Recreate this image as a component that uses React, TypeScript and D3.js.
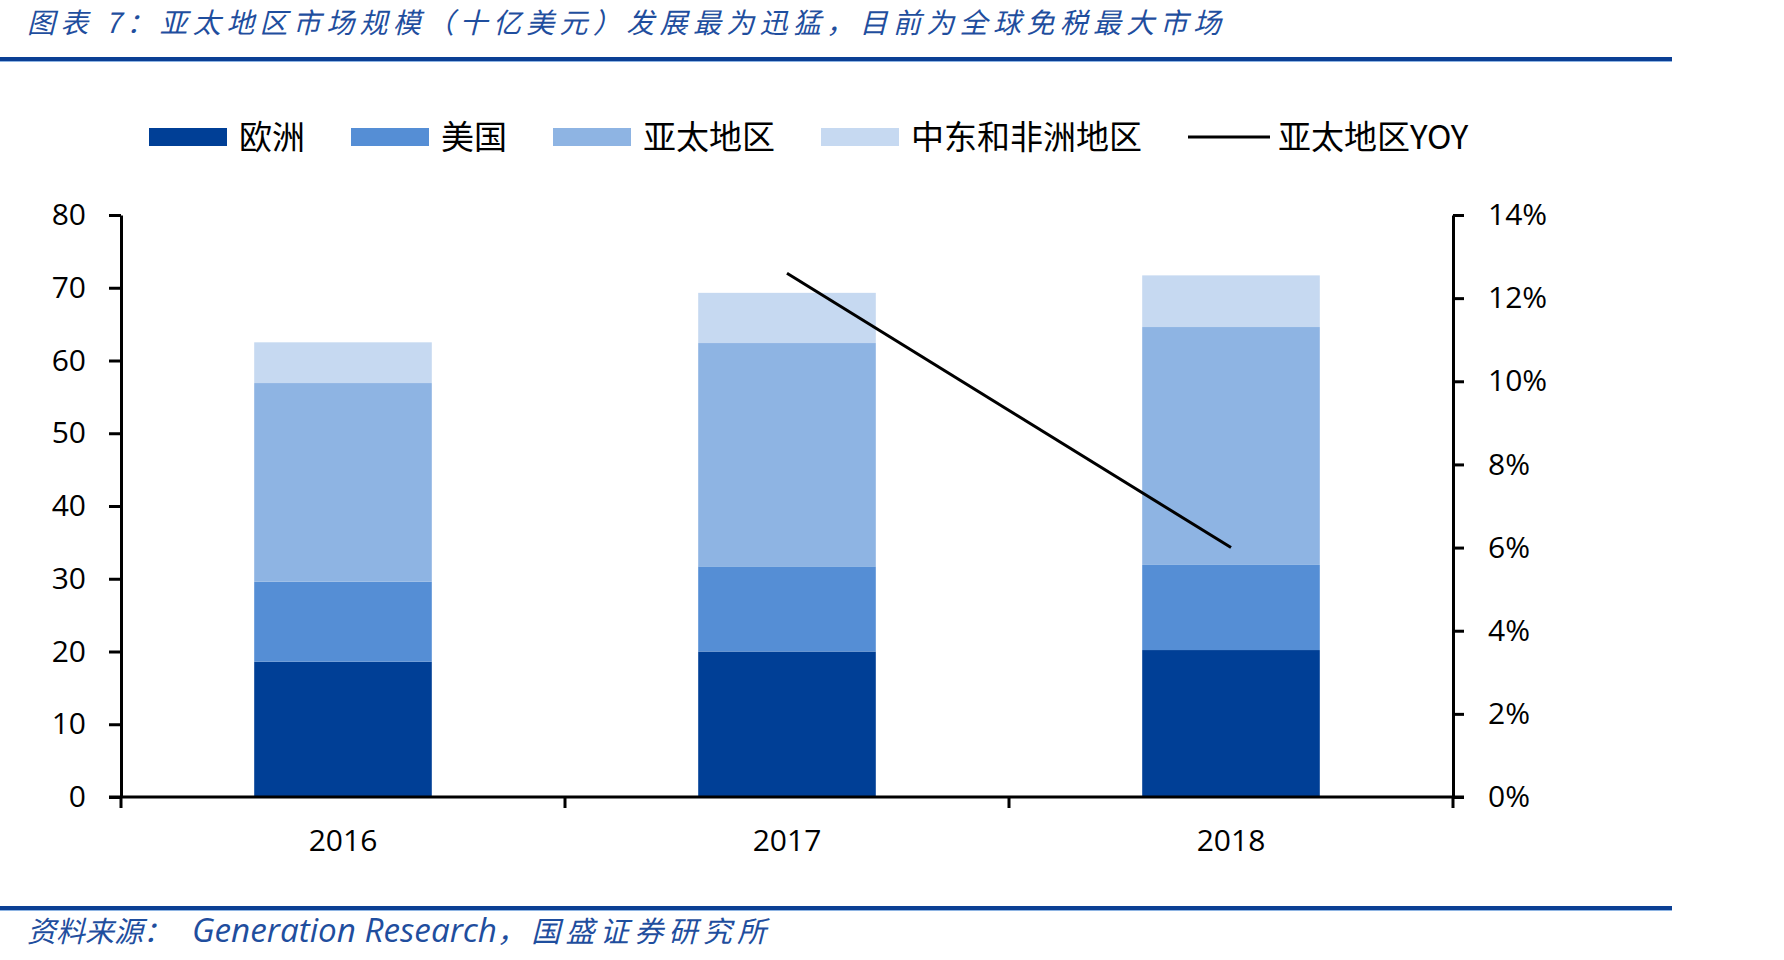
import * as d3 from 'd3'
import { useEffect, useRef } from 'react'

const years = ['2016', '2017', '2018']
const europe = [18.6, 20.0, 20.2]
const usa = [11.0, 11.7, 11.7]
const asiaPacific = [27.3, 30.7, 32.7]
const middleEastAfrica = [5.6, 6.9, 7.1]
const asiaYoy: (number | null)[] = [null, 12.6, 6.0]

const seriesNames = ['欧洲', '美国', '亚太地区', '中东和非洲地区']
const seriesColors = ['#003F96', '#558ED5', '#8EB4E3', '#C6D9F1']
const lineName = '亚太地区YOY'

const leftTicks = [0, 10, 20, 30, 40, 50, 60, 70, 80]
const rightTicks = [0, 2, 4, 6, 8, 10, 12, 14]

const title = '图表 7：亚太地区市场规模（十亿美元）发展最为迅猛，目前为全球免税最大市场'
const sourceCn = '资料来源：'
const sourceEn = 'Generation Research'
const sourceTail = '，国盛证券研究所'

const FONT = "'Open Sans', 'Noto Sans CJK SC', sans-serif"
const CJK = "'Noto Sans CJK SC', 'Open Sans', sans-serif"

export default function App() {
    const svgRef = useRef<SVGSVGElement>(null)
    const width = 1784
    const height = 960

    useEffect(() => {
        if (!svgRef.current) return
        const svg = d3.select(svgRef.current)
        svg.selectAll('*').remove()

        const plot = { left: 121, right: 1453, top: 215, bottom: 797 }

        // header and footer
        svg.append('text')
            .attr('x', 27)
            .attr('y', 33)
            .attr('fill', '#1F4E9E')
            .attr('textLength', 1194)
            .attr('lengthAdjust', 'spacing')
            .style('font-family', CJK)
            .style('font-style', 'italic')
            .style('font-size', '28px')
            .text(title)

        svg.append('rect').attr('x', 0).attr('y', 57).attr('width', 1672).attr('height', 4).attr('fill', '#0B3F94')
        svg.append('rect').attr('x', 0).attr('y', 61).attr('width', 1672).attr('height', 1).attr('fill', '#8EB4E3')
        svg.append('rect').attr('x', 0).attr('y', 906).attr('width', 1672).attr('height', 4).attr('fill', '#0B3F94')
        svg.append('rect').attr('x', 0).attr('y', 910).attr('width', 1672).attr('height', 1).attr('fill', '#8EB4E3')

        const src = svg
            .append('text')
            .attr('y', 942)
            .attr('fill', '#1F4E9E')
            .style('font-family', CJK)
            .style('font-style', 'italic')
            .style('font-size', '29px')
        src.append('tspan').attr('x', 27).text(sourceCn)
        src.append('tspan')
            .attr('x', 192)
            .attr('textLength', 305)
            .attr('lengthAdjust', 'spacingAndGlyphs')
            .style('font-family', FONT)
            .style('font-size', '32px')
            .text(sourceEn)
        src.append('tspan')
            .attr('x', 497)
            .attr('textLength', 269)
            .attr('lengthAdjust', 'spacing')
            .text(sourceTail)

        // scales
        const x = d3
            .scaleBand()
            .domain(years)
            .range([plot.left, plot.right])
            .paddingInner(0.6)
            .paddingOuter(0.3)

        const y = d3.scaleLinear().domain([0, 80]).range([plot.bottom, plot.top])
        const y2 = d3.scaleLinear().domain([0, 14]).range([plot.bottom, plot.top])

        const rows = years.map((yr, i) => ({
            year: yr,
            s0: europe[i],
            s1: usa[i],
            s2: asiaPacific[i],
            s3: middleEastAfrica[i],
        }))
        const stacked = d3.stack<any>().keys(['s0', 's1', 's2', 's3'])(rows)

        const g = svg.append('g')
        stacked.forEach((layer, li) => {
            g.selectAll(`.bar-${li}`)
                .data(layer)
                .enter()
                .append('rect')
                .attr('x', (d) => x(d.data.year) || 0)
                .attr('y', (d) => y(d[1]))
                .attr('width', x.bandwidth())
                .attr('height', (d) => y(d[0]) - y(d[1]))
                .attr('fill', seriesColors[li])
        })

        // YOY line
        const pts = years
            .map((yr, i) => ({ yr, v: asiaYoy[i] }))
            .filter((d) => d.v !== null) as { yr: string; v: number }[]
        const line = d3
            .line<{ yr: string; v: number }>()
            .x((d) => (x(d.yr) || 0) + x.bandwidth() / 2)
            .y((d) => y2(d.v))
        g.append('path')
            .datum(pts)
            .attr('d', line)
            .attr('fill', 'none')
            .attr('stroke', '#000')
            .attr('stroke-width', 3)

        // axes
        const step = x.step()
        const xTicks = d3.range(years.length + 1).map((i) => plot.left + i * step)

        const left = svg
            .append('g')
            .attr('transform', `translate(${plot.left},0)`)
            .call(d3.axisLeft(y).tickValues(leftTicks).tickSize(12).tickPadding(23).tickSizeOuter(0))
        const right = svg
            .append('g')
            .attr('transform', `translate(${plot.right},0)`)
            .call(
                d3
                    .axisRight(y2)
                    .tickValues(rightTicks)
                    .tickSize(11)
                    .tickPadding(24)
                    .tickSizeOuter(0)
                    .tickFormat((d) => `${d}%`)
            )
        const bottom = svg
            .append('g')
            .attr('transform', `translate(0,${plot.bottom})`)
            .call(d3.axisBottom(x).tickSize(0).tickPadding(33).tickSizeOuter(0))

        bottom
            .selectAll('.xtick')
            .data(xTicks)
            .enter()
            .append('line')
            .attr('x1', (d) => d)
            .attr('x2', (d) => d)
            .attr('y1', 0)
            .attr('y2', 11)
            .attr('stroke', '#000')
            .attr('stroke-width', 3)

        ;[left, right, bottom].forEach((ax) => {
            ax.selectAll('path.domain').attr('stroke', '#000').attr('stroke-width', 3)
            ax.selectAll('.tick line').attr('stroke', '#000').attr('stroke-width', 3)
            ax.selectAll('text')
                .attr('fill', '#000')
                .style('font-family', FONT)
                .style('font-size', '30px')
        })
        bottom.select('path.domain').attr('d', `M${plot.left - 12},0H${plot.right + 11}`)

        // legend
        const legend = svg.append('g').attr('transform', 'translate(149,137)')
        let cx = 0
        const entries = [
            ...seriesNames.map((n, i) => ({ name: n, color: seriesColors[i], kind: 'rect' })),
            { name: lineName, color: '#000', kind: 'line' },
        ]
        entries.forEach((e) => {
            if (e.kind === 'rect') {
                legend
                    .append('rect')
                    .attr('x', cx)
                    .attr('y', -9)
                    .attr('width', 78)
                    .attr('height', 18)
                    .attr('fill', e.color)
            } else {
                legend
                    .append('line')
                    .attr('x1', cx)
                    .attr('x2', cx + 82)
                    .attr('y1', 0)
                    .attr('y2', 0)
                    .attr('stroke', e.color)
                    .attr('stroke-width', 3)
            }
            const t = legend
                .append('text')
                .attr('x', cx + 90)
                .attr('y', 0)
                .attr('dy', '0.35em')
                .attr('fill', '#000')
                .style('font-family', CJK)
                .style('font-size', '33px')
                .text(e.name)
            const tw = (t.node() as SVGTextElement).getComputedTextLength()
            cx += 90 + tw + 46
        })
    }, [])

    return (
        <svg
            ref={svgRef}
            width={width}
            height={height}
            style={{ position: 'absolute', left: 0, top: 0, background: '#fff' }}
        />
    )
}
